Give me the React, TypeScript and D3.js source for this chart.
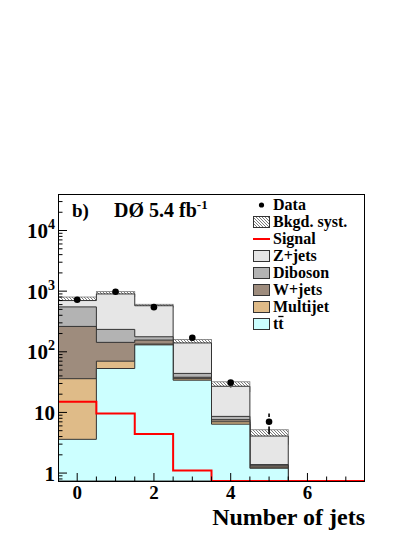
import React from 'react';
import * as d3 from 'd3';

// ---- data ----
const bins = [0, 1, 2, 3, 4, 5, 6, 7];
const ttbar = [3.6, 53, 130, 34, 6.4, 1.2, 0, 0];
const multijet = [32.4, 17, 4, 2, 0.6, 0.05, 0, 0];
const wjets = [226, 73, 22, 2, 0.6, 0.07, 0, 0];
const diboson = [288, 91, 21, 6, 1.0, 0.06, 0, 0];
const zjets = [150, 666, 398, 96, 18.4, 2.7, 0, 0];
const bkgSyst = [100, 82, 32, 20, 5, 1.1, 0, 0];
const signal = [15, 9.6, 4.4, 1.1, 0, 0, 0, 0];
const data = [720, 980, 545, 170, 31, 7, 0, 0];
const xTicks = [0, 2, 4, 6];
const yTickExps = [0, 1, 2, 3, 4];

const W = 415, H = 537;
const X0 = 58, X1 = 365, Y0 = 194, Y1 = 481;
const FONT = "'Liberation Serif', 'Times New Roman', serif";

const x = d3.scaleLinear().domain([-0.5, 7.5]).range([X0, X1]);
const y = d3.scaleLog().domain([0.74, 4e4]).range([Y1, Y0]);

const yc = (v: number) => (v > 0 ? Math.min(Y1, Math.max(Y0, y(v))) : Y1);

function cumulative(arrs: number[][]) {
  return bins.map((_, i) => arrs.reduce((s, a) => s + a[i], 0));
}

function stepPath(vals: number[], closed: boolean) {
  let d = '';
  bins.forEach((b, i) => {
    const yy = yc(vals[i]);
    if (i === 0) d += closed ? `M${x(b - 0.5)},${Y1}L${x(b - 0.5)},${yy}` : `M${x(b - 0.5)},${yy}`;
    else d += `L${x(b - 0.5)},${yy}`;
    d += `L${x(b + 0.5)},${yy}`;
  });
  if (closed) d += `L${x(7.5)},${Y1}Z`;
  return d;
}

const comps = [
  { name: 'ttbar', vals: ttbar, color: '#ccffff' },
  { name: 'Multijet', vals: multijet, color: '#dfbb88' },
  { name: 'W+jets', vals: wjets, color: '#9e8c7d' },
  { name: 'Diboson', vals: diboson, color: '#b3b3b3' },
  { name: 'Z+jets', vals: zjets, color: '#e6e6e6' },
];

const MR = 3.3; // data marker radius
const GAP = 1.5;

export default function App() {
  const cums = comps.map((_, k) => cumulative(comps.slice(0, k + 1).map(c => c.vals)));
  const total = cums[cums.length - 1];

  const yMinor: number[] = [];
  for (let e = -1; e <= 4; e++) {
    for (let m = 2; m <= 9; m++) {
      const v = m * Math.pow(10, e);
      if (v > 0.74 && v < 4e4) yMinor.push(v);
    }
  }
  const xMinor = d3.range(0, 7.5, 0.5).filter(v => v % 2 !== 0);

  const legendX = 253, legendTX = 273;
  const lc = (i: number) => 205 + 17 * i;
  const legendBoxes = [
    { label: 'Z+jets', color: '#e6e6e6' },
    { label: 'Diboson', color: '#b3b3b3' },
    { label: 'W+jets', color: '#9e8c7d' },
    { label: 'Multijet', color: '#dfbb88' },
  ];
  const LF = 16;

  return (
    <svg width={W} height={H} style={{ position: 'absolute', left: 0, top: 0, background: '#fff' }}
      fontFamily={FONT} fontWeight="bold">
      <defs>
        <pattern id="hatch" patternUnits="userSpaceOnUse" width="3" height="3">
          <path d="M0,0L3,3M-1,2L1,4M2,-1L4,1" stroke="#444" strokeWidth="0.7" />
        </pattern>
        <clipPath id="frame">
          <rect x={X0} y={Y0} width={X1 - X0} height={Y1 - Y0 + 1} />
        </clipPath>
      </defs>
      <rect x={0} y={0} width={W} height={H} fill="#fff" />

      <g clipPath="url(#frame)">
        {/* systematics band */}
        {bins.map((b, i) => total[i] > 0 ? (
          <rect key={'b' + i} x={x(b - 0.5)} width={x(b + 0.5) - x(b - 0.5)}
            y={yc(total[i] + bkgSyst[i])} height={yc(total[i] - bkgSyst[i]) - yc(total[i] + bkgSyst[i])}
            fill="url(#hatch)" stroke="#777" strokeWidth="0.8" />
        ) : null)}
        {/* stacked histograms, largest first */}
        {comps.map((c, k) => ({ c, k })).reverse().map(({ c, k }) => (
          <path key={c.name} d={stepPath(cums[k], true)} fill={c.color} stroke="#333" strokeWidth="1" />
        ))}
        {/* signal */}
        <path d={stepPath(signal, false)} fill="none" stroke="#ff0000" strokeWidth="2" />
        {/* data */}
        {bins.map((b, i) => {
          if (data[i] <= 0) return null;
          const cy = y(data[i]);
          const yHi = yc(data[i] + Math.sqrt(data[i]));
          const yLo = yc(data[i] - Math.sqrt(data[i]));
          const upEnd = cy - MR - GAP;
          const dnStart = cy + MR + GAP;
          return (
            <g key={'d' + i}>
              {yHi < upEnd ? <line x1={x(b)} x2={x(b)} y1={yHi} y2={upEnd} stroke="#000" strokeWidth="1.6" /> : null}
              {yLo > dnStart ? <line x1={x(b)} x2={x(b)} y1={dnStart} y2={yLo} stroke="#000" strokeWidth="1.6" /> : null}
              <circle cx={x(b)} cy={cy} r={MR} fill="#000" />
            </g>
          );
        })}
      </g>

      {/* frame */}
      <rect x={X0 + 0.5} y={Y0 + 0.5} width={X1 - X0 - 1} height={Y1 - Y0} fill="none" stroke="#000" strokeWidth="1" />

      {/* x ticks */}
      {xTicks.map(t => (
        <g key={'xt' + t}>
          <line x1={x(t)} x2={x(t)} y1={Y1} y2={Y1 - 8} stroke="#000" strokeWidth="1" />
          <text x={x(t)} y={499} fontSize="19" textAnchor="middle">{t}</text>
        </g>
      ))}
      {xMinor.map(t => (
        <line key={'xm' + t} x1={x(t)} x2={x(t)} y1={Y1} y2={Y1 - 4.5} stroke="#000" strokeWidth="1" />
      ))}

      {/* y ticks */}
      {yTickExps.map(e => {
        const v = Math.pow(10, e);
        const yy = y(v);
        return (
          <g key={'yt' + e}>
            <line x1={X0} x2={X0 + 9} y1={yy} y2={yy} stroke="#000" strokeWidth="1" />
            <text x={55} y={yy + 7.5} fontSize="21" textAnchor="end">
              {e === 0 ? '1' : e === 1 ? '10' : (
                <>
                  <tspan>10</tspan>
                  <tspan fontSize="14" dy="-9">{e}</tspan>
                </>
              )}
            </text>
          </g>
        );
      })}
      {yMinor.map(v => (
        <line key={'ym' + v} x1={X0} x2={X0 + 4.5} y1={y(v)} y2={y(v)} stroke="#000" strokeWidth="1" />
      ))}

      {/* title */}
      <text x={72} y={217} fontSize="19">b)</text>
      <text x={114} y={217} fontSize="20">
        <tspan>DØ 5.4 fb</tspan>
        <tspan fontSize="13" dy="-8">-1</tspan>
      </text>

      {/* legend */}
      <circle cx={261.5} cy={lc(0)} r={2.6} fill="#000" />
      <text x={legendTX} y={lc(0) + 5} fontSize={LF}>Data</text>
      <rect x={legendX + 0.5} y={lc(1) - 5.5} width={16} height={11} fill="url(#hatch)" stroke="#333" strokeWidth="1" />
      <text x={legendTX} y={lc(1) + 5} fontSize={LF}>Bkgd. syst.</text>
      <line x1={legendX} x2={legendX + 17} y1={lc(2)} y2={lc(2)} stroke="#ff0000" strokeWidth="2" />
      <text x={legendTX} y={lc(2) + 5} fontSize={LF}>Signal</text>
      {legendBoxes.map((l, j) => (
        <g key={l.label}>
          <rect x={legendX + 0.5} y={lc(3 + j) - 5.5} width={16} height={11} fill={l.color} stroke="#333" strokeWidth="1" />
          <text x={legendTX} y={lc(3 + j) + 5} fontSize={LF}>{l.label}</text>
        </g>
      ))}
      <rect x={legendX + 0.5} y={lc(7) - 5.5} width={16} height={11} fill="#ccffff" stroke="#333" strokeWidth="1" />
      <text x={legendTX} y={lc(7) + 5} fontSize={LF}>tt</text>
      <line x1={legendTX + 5.3} x2={legendTX + 10.5} y1={lc(7) - 7.5} y2={lc(7) - 7.5} stroke="#000" strokeWidth="1.3" />

      {/* x title */}
      <text x={X1} y={525} fontSize="24" textAnchor="end">Number of jets</text>
    </svg>
  );
}
